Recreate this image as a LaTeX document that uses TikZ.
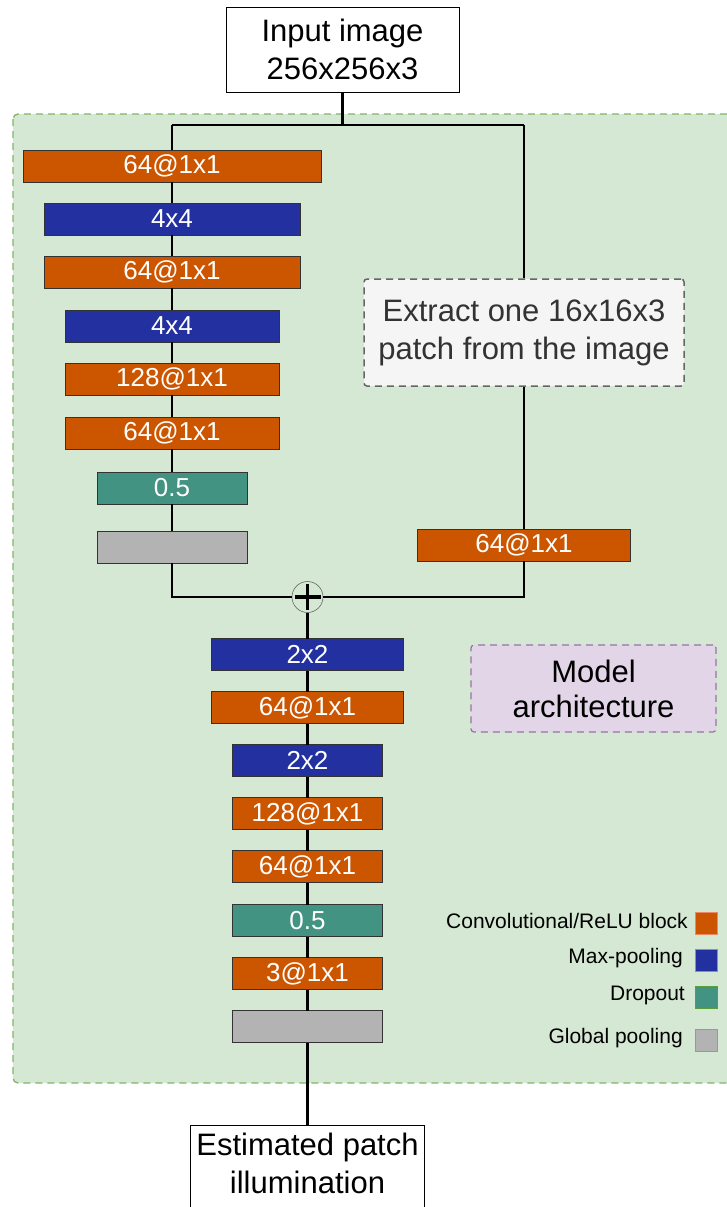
\documentclass[tikz,border=0pt]{standalone}
\usepackage{fontspec}
\setmainfont{Liberation Sans}
\usetikzlibrary{positioning}

\definecolor{convorange}{HTML}{CC5500}
\definecolor{poolblue}{HTML}{2330A0}
\definecolor{dropteal}{HTML}{439383}
\definecolor{globgray}{HTML}{B3B3B3}
\definecolor{regiongreen}{HTML}{D5E8D4}
\definecolor{regionborder}{HTML}{82B366}
\definecolor{notepurple}{HTML}{E1D5E7}
\definecolor{noteborder}{HTML}{9673A6}
\definecolor{extractfill}{HTML}{F5F5F5}
\definecolor{tealborder}{HTML}{5A9E3A}

\begin{document}
\begin{tikzpicture}[
    x=1pt, y=-1pt,
    layer/.style={rectangle, draw=black!80, line width=0.8pt, minimum height=32pt, inner sep=0pt, outer sep=0pt, text=white, font=\fontsize{26}{30}\selectfont},
    conv/.style={layer, fill=convorange},
    maxpool/.style={layer, fill=poolblue},
    dropout/.style={layer, fill=dropteal},
    globalpool/.style={layer, fill=globgray},
    io/.style={rectangle, draw, fill=white, line width=0.8pt, minimum width=233pt, align=center, font=\fontsize{31}{38}\selectfont},
    note/.style={rectangle, draw, dashed, dash pattern=on 7pt off 5pt, line width=1.5pt, rounded corners=3pt, align=center, font=\fontsize{31}{38}\selectfont},
    sumnode/.style={circle, draw=black!60, line width=0.6pt, minimum size=31pt, inner sep=0pt,
      path picture={
        \draw[black, line width=3.6pt] ([yshift=-2.5pt]path picture bounding box.north) -- ([yshift=2.5pt]path picture bounding box.south);
        \draw[black, line width=3.6pt] ([xshift=2.5pt]path picture bounding box.west) -- ([xshift=-2.5pt]path picture bounding box.east);
      }},
    legsq/.style={rectangle, minimum size=22pt, inner sep=0pt, line width=1pt},
    legtext/.style={anchor=east, inner sep=0pt, font=\fontsize{21}{25}\selectfont},
    wire/.style={line width=2.8pt},
    node distance=21pt
]
\useasboundingbox (0,0) rectangle (726,1207);

% Model region
\draw[regionborder, fill=regiongreen, dashed, dash pattern=on 7pt off 5pt, line width=1.3pt, rounded corners=5pt] (13,114) rectangle (745,1083);

% Input / Output
\node[io, minimum height=85pt] (input) at (342.5,49.5) {Input image\\256x256x3};
\node[io, minimum width=234pt, anchor=north, inner ysep=8pt, text depth=30pt] (output) at (307.5,1125) {Estimated patch\\illumination};

% Global branch
\node[conv, minimum width=298pt] (l1) at (172,166) {64@1x1};
\node[maxpool, minimum width=256pt, below=of l1] (l2) {4x4};
\node[conv, minimum width=256pt, below=of l2] (l3) {64@1x1};
\node[maxpool, minimum width=214pt, below=22pt of l3] (l4) {4x4};
\node[conv, minimum width=214pt, below=of l4] (l5) {128@1x1};
\node[conv, minimum width=214pt, below=22pt of l5] (l6) {64@1x1};
\node[dropout, minimum width=150pt, below=23pt of l6] (l7) {0.5};
\node[globalpool, minimum width=150pt, below=27pt of l7] (l8) {};

% Patch branch
\node[note, draw=black!60, fill=extractfill, text=black!80, minimum width=320pt, minimum height=107pt] (extract) at (524,332.5) {Extract one 16x16x3\\patch from the image};
\node[conv, minimum width=213pt] (r1) at (524,545) {64@1x1};

\node[sumnode] (plus) at (307.5,597) {};

% Merged branch
\node[maxpool, minimum width=192pt] (b1) at (307.5,654.5) {2x2};
\node[conv, minimum width=192pt, below=of b1] (b2) {64@1x1};
\node[maxpool, minimum width=150pt, below=of b2] (b3) {2x2};
\node[conv, minimum width=150pt, below=of b3] (b4) {128@1x1};
\node[conv, minimum width=150pt, below=of b4] (b5) {64@1x1};
\node[dropout, minimum width=150pt, below=22pt of b5] (b6) {0.5};
\node[conv, minimum width=150pt, below=of b6] (b7) {3@1x1};
\node[globalpool, minimum width=150pt, below=of b7] (b8) {};

\node[note, draw=noteborder, fill=notepurple, line width=1.2pt, minimum width=245pt, minimum height=87pt] (model) at (593.5,688.5) {Model\\[-3pt]architecture};

% Legend
\node[legsq, fill=convorange, draw=convorange!70!red!60!white] (legconv) at (706,923) {};
\node[legsq, fill=poolblue, draw=poolblue!55!white] (legpool) at (706,960) {};
\node[legsq, fill=dropteal, draw=tealborder] (legdrop) at (706,997.5) {};
\node[legsq, fill=globgray, draw=black!40] (legglob) at (706,1040) {};
\node[legtext] (legconvtext) at (688,921) {Convolutional/ReLU block};
\node[legtext] (legpooltext) at (683,958) {Max-pooling};
\node[legtext] (legdroptext) at (685,995.5) {Dropout};
\node[legtext] (legglobtext) at (683,1038) {Global pooling};

% Connections
\coordinate (split) at (342.5,125);
\coordinate (lsplit) at (172,125);
\coordinate (rsplit) at (524,125);
\draw[wire] (input) -- (split);
\draw[wire] (lsplit) -- (rsplit);
\draw[wire] (lsplit) -- (l1);
\foreach \a/\b in {l1/l2, l2/l3, l3/l4, l4/l5, l5/l6, l6/l7, l7/l8}
  \draw[wire] (\a) -- (\b);
\draw[wire] (rsplit) -- (extract);
\draw[wire] (extract) -- (r1);
\draw[wire] (l8) |- (plus);
\draw[wire] (r1) |- (plus);
\draw[wire] (plus) -- (b1);
\foreach \a/\b in {b1/b2, b2/b3, b3/b4, b4/b5, b5/b6, b6/b7, b7/b8}
  \draw[wire] (\a) -- (\b);
\draw[wire] (b8) -- (output);

\end{tikzpicture}
\end{document}
